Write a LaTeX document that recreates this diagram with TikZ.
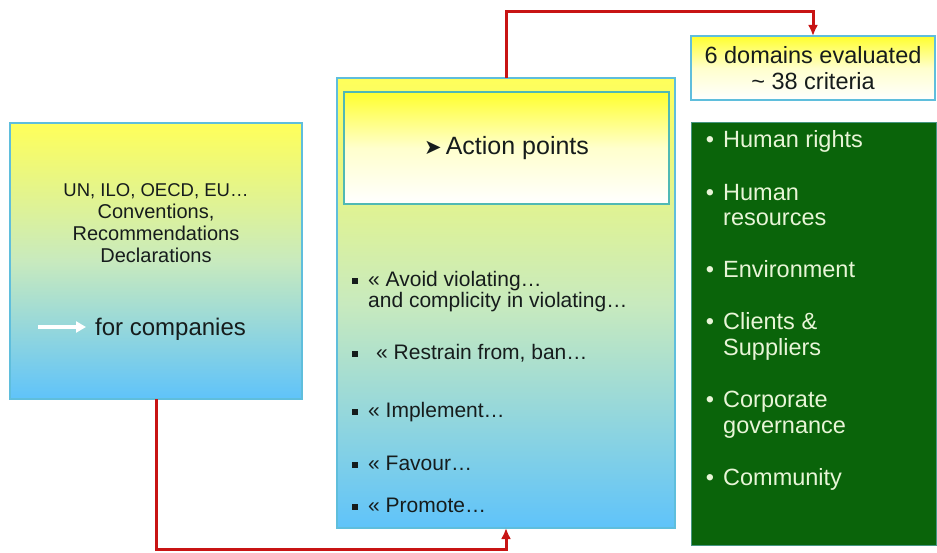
\documentclass[tikz,border=0pt]{standalone}
\usepackage{fontspec}
\setmainfont{Liberation Sans}
\newfontfamily\symfont{DejaVu Sans}
\usetikzlibrary{arrows.meta}

\definecolor{boxedge}{RGB}{95,190,220}
\definecolor{headedge}{RGB}{80,185,180}
\definecolor{paleyellow}{RGB}{255,255,90}
\definecolor{brightyellow}{RGB}{255,255,45}
\definecolor{paleblue}{RGB}{95,195,250}
\definecolor{midtint}{RGB}{200,234,190}
\definecolor{creamtint}{RGB}{255,255,205}
\definecolor{linkred}{RGB}{200,20,20}
\definecolor{domaingreen}{RGB}{10,100,10}
\definecolor{domainedge}{RGB}{70,150,130}
\definecolor{domaintext}{RGB}{232,245,215}
\definecolor{inktext}{RGB}{22,28,28}

\tikzset{
  panel/.style={draw=boxedge, line width=1.2pt, outer sep=0pt, inner sep=0pt, anchor=north west,
    top color=paleyellow, bottom color=paleblue, middle color=midtint},
  lightbox/.style={draw=boxedge, line width=1.2pt, outer sep=0pt, inner sep=0pt, anchor=north west,
    top color=brightyellow, bottom color=white, middle color=creamtint},
  greenbox/.style={draw=domainedge, line width=0.8pt, fill=domaingreen, outer sep=0pt, inner sep=0pt, anchor=north west},
  link/.style={draw=linkred, line width=3pt, -{Latex[length=11pt,width=10pt]}},
  ink/.style={text=inktext, inner sep=0pt},
  item/.style={ink, anchor=west, text height=18pt, text depth=4.6pt, font=\fontsize{21}{24}\selectfont},
  sqbullet/.style={fill=inktext, minimum size=6pt, inner sep=0pt},
  domitem/.style={text=domaintext, inner sep=0pt, anchor=west, text height=21pt, text depth=5.2pt, font=\fontsize{23.5}{26}\selectfont},
}

\begin{document}
\begin{tikzpicture}[x=1pt,y=-1pt]
  \useasboundingbox (0,0) rectangle (937,553);

  \node[panel, minimum width=292pt, minimum height=276pt] (sources) at (10,123) {};
  \node[panel, minimum width=338pt, minimum height=450pt] (actions) at (337,78) {};
  \node[lightbox, draw=headedge, minimum width=325pt, minimum height=112pt] (headbox) at (344,92) {};
  \node[lightbox, minimum width=244pt, minimum height=64pt] (goal) at (691,36) {};
  \node[greenbox, minimum width=245pt, minimum height=423pt] (domains) at (691,122) {};

  \coordinate (lowrail) at (0,549);
  \coordinate (highrail) at (0,12);
  \draw[link] (sources.south) -- (sources.south |- lowrail) -| (actions.south);
  \draw[link] (actions.north) -- (actions.north |- highrail) -| (goal.north);

  \node[ink, align=center, font=\fontsize{20}{22}\selectfont] (treaties) at (156,223)
    {{\fontsize{18.5}{22}\selectfont UN, ILO, OECD, EU…}\\Conventions,\\Recommendations\\Declarations};
  \node[ink, anchor=west, text height=17.3pt, text depth=5.3pt, font=\fontsize{24}{28}\selectfont] (forco) at (95,329) {for companies};
  \coordinate (arrtail) at (38,327);
  \draw[white, line width=3.5pt, -{Triangle[length=10pt,width=11pt]}, shorten >=9pt] (arrtail) -- (arrtail -| forco.west);

  \node[ink, font=\fontsize{25}{28}\selectfont] (headline) at (headbox.center)
    {{\symfont\fontsize{21}{21}\selectfont ➤}\,Action points};

  \node[sqbullet] (b1) at (355,281) {};
  \node[sqbullet] (b2) at (355,354) {};
  \node[sqbullet] (b3) at (355,412) {};
  \node[sqbullet] (b4) at (355,465) {};
  \node[sqbullet] (b5) at (355,507) {};
  \node[item] (avoid) at (368,280) {« Avoid violating…};
  \node[item] (complicity) at (368,301) {and complicity in violating…};
  \node[item] (restrain) at (376,353) {« Restrain from, ban…};
  \node[item] (implement) at (368,411) {« Implement…};
  \node[item] (favour) at (368,464) {« Favour…};
  \node[item] (promote) at (368,506) {« Promote…};

  \node[ink, align=center, font=\fontsize{23.5}{26}\selectfont] (goaltext) at (goal.center)
    {6 domains evaluated\\\textasciitilde\ 38 criteria};

  \node[domitem] (rights) at (723,140) {\llap{•\hspace{9pt}}Human rights};
  \node[domitem] (human) at (723,193) {\llap{•\hspace{9pt}}Human};
  \node[domitem] (resources) at (723,218) {resources};
  \node[domitem] (environment) at (723,270) {\llap{•\hspace{9pt}}Environment};
  \node[domitem] (clients) at (723,322) {\llap{•\hspace{9pt}}Clients \&};
  \node[domitem] (suppliers) at (723,348) {Suppliers};
  \node[domitem] (corporate) at (723,400) {\llap{•\hspace{9pt}}Corporate};
  \node[domitem] (governance) at (723,426) {governance};
  \node[domitem] (community) at (723,478) {\llap{•\hspace{9pt}}Community};
\end{tikzpicture}
\end{document}
